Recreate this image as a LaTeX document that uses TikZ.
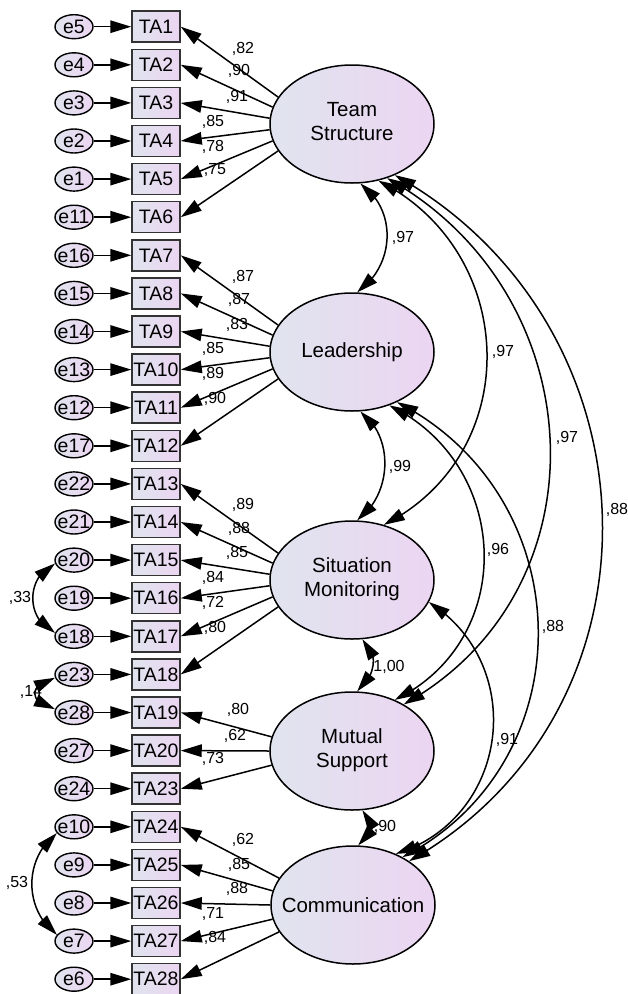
\documentclass[tikz,border=0pt]{standalone}
\usepackage{fontspec}
\setmainfont{Liberation Sans}
\usetikzlibrary{arrows.meta,bending,shapes.geometric}
\definecolor{fillL}{RGB}{224,228,238}
\definecolor{fillR}{RGB}{236,213,242}
\newcommand\twol[2]{\makebox[0pt]{\begin{tabular}{@{}c@{}}#1\\#2\end{tabular}}}
\newcommand\ldg[6]{\draw[pth] (#1.#2) -- (TA#3.east); \node[lab] (v#3) at (#5,#6) {#4};}
\begin{document}
\begin{tikzpicture}[x=1pt,y=-1pt,
  obs/.style={draw=black!80, line width=1.5pt, left color=fillL, right color=fillR,
    minimum width=48pt, minimum height=31pt, inner sep=0pt, font=\fontsize{19.5}{22}\selectfont},
  err/.style={ellipse, draw=black, line width=1.4pt, left color=fillL, right color=fillR,
    minimum width=38pt, minimum height=24pt, inner sep=0pt, font=\fontsize{19.5}{22}\selectfont},
  lat/.style={ellipse, draw=black, line width=1.5pt, left color=fillL, right color=fillR,
    minimum width=164pt, minimum height=118pt, inner sep=0pt, font=\fontsize{20.5}{24}\selectfont},
  lab/.style={font=\fontsize{16}{18}\selectfont, inner sep=0pt},
  pth/.style={line width=1.5pt, -{Triangle[length=21pt,width=12.5pt]}},
  cov/.style={line width=1.5pt, {Triangle[length=21pt,width=12.5pt]}-{Triangle[length=21pt,width=12.5pt]}},
]
\fill[white] (0,0) rectangle (628,994);
\useasboundingbox (0,0) rectangle (628,994);

% observed variables and errors
\foreach \e/\t [count=\i from 0] in {5/1,4/2,3/3,2/4,1/5,11/6,16/7,15/8,14/9,13/10,12/11,17/12,22/13,21/14,20/15,19/16,18/17,23/18,28/19,27/20,24/23,10/24,9/25,8/26,7/27,6/28} {
  \node[obs] (TA\t) at (156, 26.7+38.1*\i) {\makebox[0pt]{TA\t}};
  \node[err] (e\e) at (74, 26.7+38.1*\i) {\makebox[0pt]{e\e}};
  \draw[pth] (e\e) -- (TA\t);
}

% latent variables
\node[lat] (TS) at (352,124) {\twol{Team}{Structure}};
\node[lat] (L) at (352,352) {\makebox[0pt]{Leadership}};
\node[lat] (SM) at (352,580) {\twol{Situation}{Monitoring}};
\node[lat] (MS) at (352,751) {\twol{Mutual}{Support}};
\node[lat] (C) at (353,905) {\makebox[0pt]{Communication}};

% loadings
\ldg{TS}{160}{1}{,82}{243}{49}
\ldg{TS}{168}{2}{,90}{239}{71}
\ldg{TS}{176}{3}{,91}{237}{97}
\ldg{TS}{184}{4}{,85}{213}{122}
\ldg{TS}{192}{5}{,78}{213}{147}
\ldg{TS}{200}{6}{,75}{215}{170}
\ldg{L}{160}{7}{,87}{243}{277}
\ldg{L}{168}{8}{,87}{239}{300}
\ldg{L}{176}{9}{,83}{237}{325}
\ldg{L}{184}{10}{,85}{213}{349}
\ldg{L}{192}{11}{,89}{213}{374}
\ldg{L}{200}{12}{,90}{215}{399}
\ldg{SM}{160}{13}{,89}{243}{505}
\ldg{SM}{168}{14}{,88}{239}{529}
\ldg{SM}{176}{15}{,85}{237}{553}
\ldg{SM}{184}{16}{,84}{213}{578}
\ldg{SM}{192}{17}{,72}{213}{603}
\ldg{SM}{200}{18}{,80}{215}{628}
\ldg{MS}{170}{19}{,80}{238}{710}
\ldg{MS}{180}{20}{,62}{235}{736}
\ldg{MS}{190}{23}{,73}{213}{759}
\ldg{C}{160}{24}{,62}{243}{840}
\ldg{C}{170}{25}{,85}{239}{865}
\ldg{C}{180}{26}{,88}{237}{889}
\ldg{C}{190}{27}{,71}{213}{914}
\ldg{C}{200}{28}{,84}{215}{938}

% covariance labels
\node[lab] (k1) at (403,238) {,97};
\node[lab] (k2) at (400,467) {,99};
\node[lab] (k3) at (389,667) {1,00};
\node[lab] (k4) at (385,827) {,90};
\node[lab] (k5) at (503,352) {,97};
\node[lab] (k6) at (567,438) {,97};
\node[lab] (k7) at (617,510) {,88};
\node[lab] (k8) at (498,550) {,96};
\node[lab] (k9) at (553,627) {,88};
\node[lab] (k10) at (507,740) {,91};
\node[lab] (k11) at (20,598) {,33};
\node[lab] (k12) at (31,692) {,14};
\node[lab] (k13) at (17,883) {,53};

% factor covariances
\draw[cov] (TS.-82) .. controls (398,210) and (395,266) .. (L.85);
\draw[cov] (L.-82) .. controls (395,437) and (392,495) .. (SM.85);
\draw[cov] (SM.-80) .. controls (380,652) and (375,678) .. (MS.85);
\draw[cov] (MS.-80) .. controls (378.5,816.4) and (373.4,839.2) .. (C.85);
\draw[cov] (TS.-65) .. controls (519.6,251.7) and (525,453.7) .. (SM.60);
\draw[cov] (TS.-57) .. controls (593.5,292.7) and (610,589.9) .. (MS.42);
\draw[cov] (TS.-50) .. controls (662.6,324.6) and (675.7,710.5) .. (C.38);
\draw[cov] (L.-55) .. controls (512.1,464.8) and (517.6,640.4) .. (MS.50);
\draw[cov] (L.-48) .. controls (582.2,496.9) and (586.6,762.3) .. (C.44);
\draw[cov] (SM.-16) .. controls (529.1,666.1) and (508.7,818.9) .. (C.50);

% error covariances
\draw[cov] (e20.190) .. controls (25.4,576.6) and (25.4,619.8) .. (e18.170);
\draw[cov] (e23.190) .. controls (28,684) and (28,703) .. (e28.170);
\draw[cov] (e10.200) .. controls (23.5,858.3) and (23.5,909.6) .. (e7.160);
\end{tikzpicture}
\end{document}
